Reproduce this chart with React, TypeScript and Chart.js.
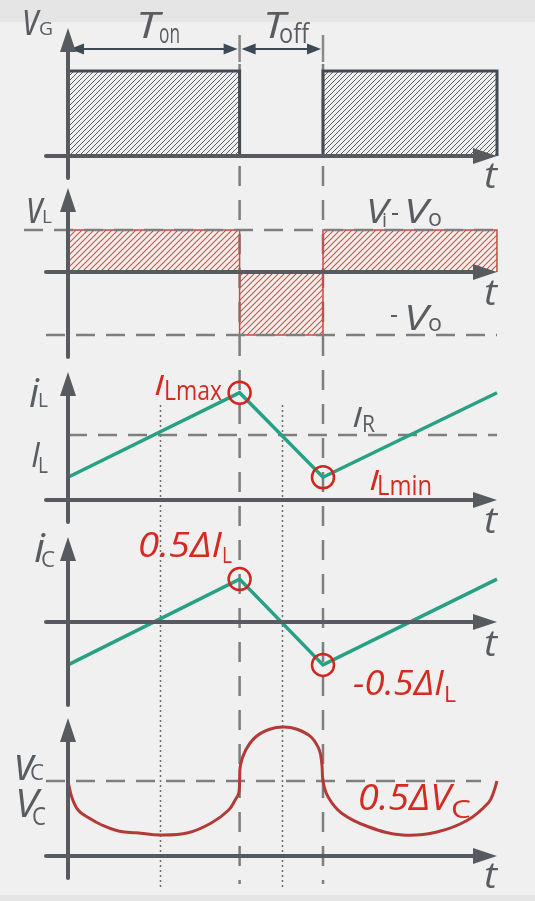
import { useEffect, useRef } from "react";
import { Chart, registerables } from "chart.js";

Chart.register(...registerables);

const W = 535;
const H = 901;

// switching instants (time axis units)
const T_ON = 2;
const T_SW = 2.972; // T_on + T_off
const T_END = 5;
const T_MID_ON = 1.07;
const T_MID_OFF = 2.49;

// gate voltage v_G
const vgTime = [0, 0, T_ON, T_ON, T_SW, T_SW, T_END, T_END];
const vgValue = [0, 1, 1, 0, 0, 1, 1, 0];

// inductor voltage v_L
const VI_MINUS_VO = 0.4;
const MINUS_VO = -0.6;
const vlTime = [0, 0, T_ON, T_ON, T_SW, T_SW, T_END, T_END];
const vlValue = [0, 0.4, 0.4, -0.6, -0.6, 0.4, 0.4, 0];

// inductor current i_L
const I_R = 1;
const ilTime = [0, T_ON, T_SW, T_END];
const ilValue = [0.35, 1.65, 0.35, 1.65];

// capacitor current i_C
const icTime = [0, T_ON, T_SW, T_END];
const icValue = [-0.65, 0.65, -0.65, 0.65];

// capacitor voltage v_C
const V_C = 1;
const vcTime = [0, 0.043, 0.12, 0.24, 0.4, 0.6, 0.8, 1.08, 1.4, 1.67, 1.87, 1.95, 1.99, 2.0, 2.01, 2.07, 2.19, 2.35, 2.51, 2.67, 2.83, 2.93, 2.96, 2.972, 3.03, 3.19, 3.5, 3.9, 4.3, 4.66, 4.9, 4.96, 5.0];
const vcValue = [1.0, 0.79, 0.61, 0.51, 0.41, 0.33, 0.31, 0.28, 0.31, 0.44, 0.61, 0.75, 0.84, 1.0, 1.21, 1.41, 1.59, 1.69, 1.72, 1.69, 1.59, 1.41, 1.21, 1.0, 0.79, 0.57, 0.39, 0.28, 0.32, 0.48, 0.71, 0.85, 1.0];

const GRAY_TEXT = "#595c60";
const RED = "#d42a20";
const AXIS = "#575b60";
const DASH = "#7e7e7e";
const FONT = '"Open Sans", "Noto Sans", sans-serif';

type Seg = { t: string; x: number; y: number; w: number; fs: number; it?: boolean; c?: string };

const labels: Seg[] = [
  // v_G panel
  { t: "v", x: 23, y: 35, w: 16, fs: 46, it: true },
  { t: "G", x: 39, y: 35, w: 14, fs: 19 },
  { t: "T", x: 136, y: 38, w: 23, fs: 37, it: true },
  { t: "on", x: 159, y: 43, w: 21, fs: 28 },
  { t: "T", x: 263, y: 38, w: 22, fs: 37, it: true },
  { t: "off", x: 279, y: 43, w: 30, fs: 28 },
  { t: "t", x: 484, y: 188, w: 13, fs: 36, it: true },
  // v_L panel
  { t: "v", x: 27, y: 223, w: 16, fs: 46, it: true },
  { t: "L", x: 42, y: 223, w: 10, fs: 19 },
  { t: "V", x: 366, y: 223, w: 22, fs: 32, it: true },
  { t: "i", x: 382, y: 227, w: 5, fs: 20 },
  { t: "-", x: 391, y: 221, w: 8, fs: 28 },
  { t: "V", x: 404, y: 223, w: 24, fs: 32, it: true },
  { t: "o", x: 428, y: 226, w: 14, fs: 24 },
  { t: "-", x: 390, y: 323, w: 8, fs: 28 },
  { t: "V", x: 404, y: 330, w: 24, fs: 34, it: true },
  { t: "o", x: 428, y: 331, w: 14, fs: 24 },
  { t: "t", x: 484, y: 305, w: 13, fs: 36, it: true },
  // i_L panel
  { t: "i", x: 29, y: 407, w: 10, fs: 40, it: true },
  { t: "L", x: 38, y: 407, w: 10, fs: 20 },
  { t: "I", x: 31, y: 467, w: 9, fs: 34, it: true },
  { t: "L", x: 38, y: 473, w: 10, fs: 22 },
  { t: "I", x: 154, y: 395, w: 10, fs: 28, it: true, c: RED },
  { t: "Lmax", x: 164, y: 400, w: 58, fs: 27, c: RED },
  { t: "I", x: 352, y: 427, w: 10, fs: 27, it: true },
  { t: "R", x: 362, y: 432, w: 13, fs: 24 },
  { t: "I", x: 369, y: 490, w: 10, fs: 28, it: true, c: RED },
  { t: "Lmin", x: 377, y: 495, w: 55, fs: 27, c: RED },
  { t: "t", x: 484, y: 533, w: 13, fs: 36, it: true },
  // i_C panel
  { t: "i", x: 34, y: 562, w: 11, fs: 40, it: true },
  { t: "C", x: 41, y: 567, w: 14, fs: 21 },
  { t: "0.5ΔI", x: 138, y: 557, w: 84, fs: 34, it: true, c: RED },
  { t: "L", x: 222, y: 563, w: 10, fs: 21, c: RED },
  { t: "-0.5ΔI", x: 353, y: 695, w: 91, fs: 34, it: true, c: RED },
  { t: "L", x: 444, y: 702, w: 12, fs: 21, c: RED },
  { t: "t", x: 484, y: 656, w: 13, fs: 36, it: true },
  // v_C panel
  { t: "v", x: 15, y: 780, w: 19, fs: 46, it: true },
  { t: "C", x: 30, y: 780, w: 14, fs: 22 },
  { t: "V", x: 15, y: 817, w: 23, fs: 38, it: true },
  { t: "C", x: 32, y: 825, w: 14, fs: 26 },
  { t: "0.5ΔV", x: 358, y: 810, w: 93, fs: 36, it: true, c: RED },
  { t: "C", x: 451, y: 818, w: 20, fs: 26, c: RED },
  { t: "t", x: 484, y: 888, w: 13, fs: 36, it: true },
];

// panel layout: pixel of the zero level and pixels per unit
const panels = {
  yG: { zero: 156, ppu: 85, tip: 28, bottom: 178 },
  yL: { zero: 272, ppu: 105, tip: 188, bottom: 357 },
  yIL: { zero: 500, ppu: 65, tip: 372, bottom: 522 },
  yIC: { zero: 622, ppu: 66, tip: 537, bottom: 705 },
  yVC: { zero: 856, ppu: 75, tip: 718, bottom: 878 },
};
const X0 = 68;
const XPPU = 85.8;
const AXIS_LEFT = 46;

function yRange(zero: number, ppu: number, size: number) {
  return { min: -(size - zero) / ppu, max: zero / ppu };
}
function xRange(zero: number, ppu: number, size: number) {
  return { min: -zero / ppu, max: (size - zero) / ppu };
}

function hatch(size: number, color: string, lw: number): CanvasPattern {
  const c = document.createElement("canvas");
  c.width = size;
  c.height = size;
  const g = c.getContext("2d")!;
  g.strokeStyle = color;
  g.lineWidth = lw;
  g.beginPath();
  g.moveTo(0, size);
  g.lineTo(size, 0);
  g.moveTo(-1, 1);
  g.lineTo(1, -1);
  g.moveTo(size - 1, size + 1);
  g.lineTo(size + 1, size - 1);
  g.stroke();
  return g.createPattern(c, "repeat")!;
}

function drawSeg(ctx: CanvasRenderingContext2D, s: Seg) {
  ctx.save();
  ctx.font = `${s.it ? "italic " : ""}${s.fs}px ${FONT}`;
  const m = ctx.measureText(s.t).width || 1;
  ctx.translate(s.x, s.y);
  ctx.scale(s.w / m, 1);
  ctx.fillStyle = s.c || GRAY_TEXT;
  ctx.textBaseline = "alphabetic";
  ctx.textAlign = "left";
  ctx.fillText(s.t, 0, 0);
  ctx.restore();
}

function head(ctx: CanvasRenderingContext2D, x: number, y: number, dx: number, dy: number, len: number, half: number) {
  const bx = x - dx * len;
  const by = y - dy * len;
  ctx.beginPath();
  ctx.moveTo(x, y);
  ctx.lineTo(bx - dy * half, by + dx * half);
  ctx.lineTo(bx + dy * half, by - dx * half);
  ctx.closePath();
  ctx.fill();
}

function line(ctx: CanvasRenderingContext2D, x1: number, y1: number, x2: number, y2: number) {
  ctx.beginPath();
  ctx.moveTo(x1, y1);
  ctx.lineTo(x2, y2);
  ctx.stroke();
}

const diagramPlugin = {
  id: "diagram",
  beforeDraw(chart: any) {
    const ctx = chart.ctx as CanvasRenderingContext2D;
    ctx.save();
    ctx.fillStyle = "#f0f0f0";
    ctx.fillRect(0, 0, W, H);
    ctx.fillStyle = "#e5e5e5";
    ctx.fillRect(0, 0, W, 22);
    ctx.fillRect(0, 895, W, H - 895);
    ctx.restore();
  },
  beforeDatasetsDraw(chart: any) {
    const ctx = chart.ctx as CanvasRenderingContext2D;
    const sx = chart.scales.x;
    ctx.save();
    ctx.strokeStyle = "#6a6a6a";
    ctx.lineWidth = 1.5;
    ctx.setLineDash([2, 3]);
    for (const t of [T_MID_ON, T_MID_OFF]) {
      const x = Math.round(sx.getPixelForValue(t)) + 0.5;
      line(ctx, x, 405, x, 890);
    }
    ctx.strokeStyle = DASH;
    ctx.lineWidth = 2.5;
    ctx.setLineDash([20, 14]);
    for (const t of [T_ON, T_SW]) {
      const x = sx.getPixelForValue(t);
      line(ctx, x, 64, x, 884);
    }
    ctx.setLineDash([19, 11]);
    const yIR = chart.scales.yIL.getPixelForValue(I_R);
    line(ctx, sx.getPixelForValue(0), yIR, sx.getPixelForValue(T_END), yIR);
    const yVC = chart.scales.yVC.getPixelForValue(V_C);
    line(ctx, AXIS_LEFT, yVC, 481, yVC);
    ctx.restore();
  },
  afterDatasetsDraw(chart: any) {
    const ctx = chart.ctx as CanvasRenderingContext2D;
    const sx = chart.scales.x;
    const x0 = sx.getPixelForValue(0);
    const xEnd = sx.getPixelForValue(T_END);
    const xOn = sx.getPixelForValue(T_ON);
    const xSw = sx.getPixelForValue(T_SW);
    ctx.save();
    ctx.strokeStyle = DASH;
    ctx.lineWidth = 2.5;
    ctx.setLineDash([19, 11]);
    const yA = chart.scales.yL.getPixelForValue(VI_MINUS_VO);
    line(ctx, 24, yA, xEnd, yA);
    const yB = chart.scales.yL.getPixelForValue(MINUS_VO);
    line(ctx, AXIS_LEFT, yB, xEnd, yB);
    ctx.setLineDash([]);

    // T_on / T_off markers
    ctx.strokeStyle = "#8a8a8a";
    ctx.lineWidth = 2.5;
    line(ctx, xOn, 35, xOn, 62);
    line(ctx, xSw, 35, xSw, 62);
    ctx.strokeStyle = "#3d4955";
    ctx.fillStyle = "#3d4955";
    ctx.lineWidth = 2;
    const yArr = 49;
    line(ctx, x0 + 10, yArr, xOn - 10, yArr);
    head(ctx, x0 + 2, yArr, -1, 0, 14, 5.5);
    head(ctx, xOn - 2, yArr, 1, 0, 14, 5.5);
    line(ctx, xOn + 10, yArr, xSw - 10, yArr);
    head(ctx, xOn + 2, yArr, -1, 0, 14, 5.5);
    head(ctx, xSw - 2, yArr, 1, 0, 14, 5.5);

    // axes
    ctx.strokeStyle = AXIS;
    ctx.fillStyle = AXIS;
    ctx.lineWidth = 4;
    ctx.lineCap = "round";
    for (const key of Object.keys(panels)) {
      const p = (panels as any)[key];
      const y0 = chart.scales[key].getPixelForValue(0);
      line(ctx, x0, p.tip + 18, x0, p.bottom);
      head(ctx, x0, p.tip, 0, -1, 24, 8);
      line(ctx, AXIS_LEFT, y0, xEnd - 18, y0);
      head(ctx, xEnd, y0, 1, 0, 24, 8);
    }
    ctx.restore();

    for (const s of labels) drawSeg(ctx, s);
  },
};

export default function App() {
  const ref = useRef<HTMLCanvasElement | null>(null);

  useEffect(() => {
    if (!ref.current) return;
    const hatchG = hatch(5, "#5b6068", 1);
    const hatchL = hatch(6, "#dd4a42", 1.1);
    const pts = (xs: number[], ys: number[]) => xs.map((x, i) => ({ x, y: ys[i] }));
    const circle = (xs: number[], ys: number[]) => [1, 2].map((i) => ({ x: xs[i], y: ys[i] }));
    const circleStyle = {
      showLine: false,
      pointRadius: 11,
      pointHoverRadius: 11,
      pointBorderWidth: 2.5,
      pointBorderColor: "#d0261f",
      pointBackgroundColor: "rgba(0,0,0,0)",
      borderColor: "#d0261f",
      backgroundColor: "rgba(0,0,0,0)",
      fill: false,
    };
    const yScales: any = {};
    for (const key of Object.keys(panels)) {
      const p = (panels as any)[key];
      yScales[key] = { type: "linear", display: false, ...yRange(p.zero, p.ppu, H) };
    }
    const chart = new Chart(ref.current, {
      type: "line",
      data: {
        datasets: [
          { label: "iL extremes", data: circle(ilTime, ilValue), yAxisID: "yIL", ...circleStyle } as any,
          { label: "iC extremes", data: circle(icTime, icValue), yAxisID: "yIC", ...circleStyle } as any,
          {
            label: "vG",
            data: pts(vgTime, vgValue),
            yAxisID: "yG",
            borderColor: "#434b55",
            borderWidth: 3,
            backgroundColor: hatchG,
            fill: "origin",
            pointRadius: 0,
            borderJoinStyle: "miter",
          } as any,
          {
            label: "vL",
            data: pts(vlTime, vlValue),
            yAxisID: "yL",
            borderColor: "#cc4a43",
            borderWidth: 1.5,
            backgroundColor: hatchL,
            fill: "origin",
            pointRadius: 0,
            borderJoinStyle: "miter",
          } as any,
          {
            label: "iL",
            data: pts(ilTime, ilValue),
            yAxisID: "yIL",
            borderColor: "#27a184",
            borderWidth: 3.5,
            fill: false,
            pointRadius: 0,
          },
          {
            label: "iC",
            data: pts(icTime, icValue),
            yAxisID: "yIC",
            borderColor: "#27a184",
            borderWidth: 3.5,
            fill: false,
            pointRadius: 0,
          },
          {
            label: "vC",
            data: pts(vcTime, vcValue),
            yAxisID: "yVC",
            borderColor: "#b23b38",
            borderWidth: 3,
            fill: false,
            pointRadius: 0,
            tension: 0.4,
          } as any,
        ],
      },
      options: {
        animation: false,
        responsive: false,
        maintainAspectRatio: false,
        devicePixelRatio: 1,
        events: [],
        layout: { padding: 0, autoPadding: false },
        plugins: { legend: { display: false }, tooltip: { enabled: false }, title: { display: false } },
        scales: {
          x: { type: "linear", display: false, ...xRange(X0, XPPU, W) } as any,
          ...yScales,
        },
      },
      plugins: [diagramPlugin],
    });
    return () => chart.destroy();
  }, []);

  return (
    <div style={{ position: "fixed", left: 0, top: 0, width: W, height: H }}>
      <canvas ref={ref} width={W} height={H} style={{ display: "block", width: W, height: H }} />
    </div>
  );
}
